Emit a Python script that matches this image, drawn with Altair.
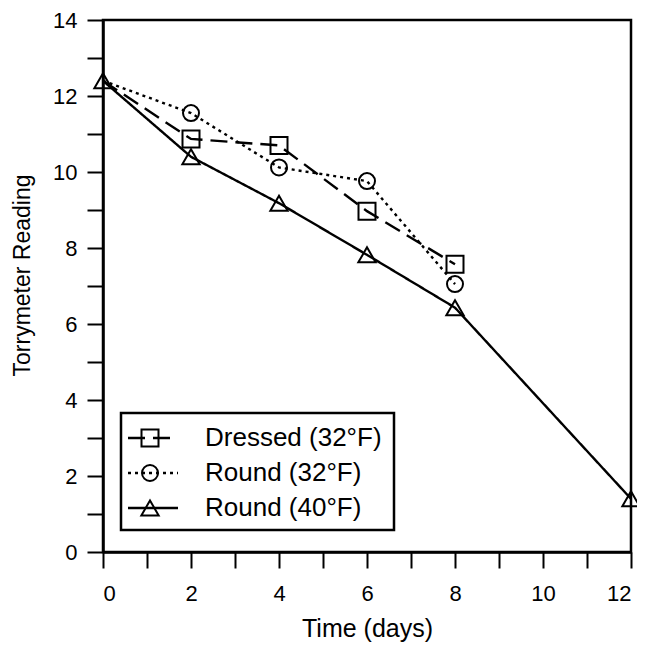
import altair as alt
import pandas as pd

# ---- data ----
series_names = ["Dressed (32°F)", "Round (32°F)", "Round (40°F)"]
days_dressed = [0, 2, 4, 6, 8]
dressed_32 = [12.4, 10.87, 10.7, 8.97, 7.57]
days_round32 = [0, 2, 4, 6, 8]
round_32 = [12.4, 11.55, 10.12, 9.76, 7.05]
days_round40 = [0, 2, 4, 6, 8, 12]
round_40 = [12.4, 10.4, 9.18, 7.82, 6.43, 1.4]
x_ticks = list(range(0, 13))
y_ticks = list(range(0, 15))
# day-0 markers of the 32°F series are hidden behind the triangle in the reference
marker_from_day = [2, 2, 0]

rows = []
for d, v in zip(days_dressed, dressed_32):
    rows.append({"series": series_names[0], "day": d, "value": v})
for d, v in zip(days_round32, round_32):
    rows.append({"series": series_names[1], "day": d, "value": v})
for d, v in zip(days_round40, round_40):
    rows.append({"series": series_names[2], "day": d, "value": v})
df = pd.DataFrame(rows)

FONT = "Liberation Sans"

x_enc = alt.X(
    "day:Q",
    scale=alt.Scale(domain=[0, 12], nice=False),
    axis=alt.Axis(
        values=x_ticks,
        labelExpr="datum.value % 2 == 0 ? datum.label : ''",
        title="Time (days)",
        tickSize=16,
        labelPadding=15,
        titleY=84,
        titleBaseline="alphabetic",
        titleFontSize=25,
    ),
)
y_enc = alt.Y(
    "value:Q",
    scale=alt.Scale(domain=[0, 14], nice=False),
    axis=alt.Axis(
        values=y_ticks,
        labelExpr="datum.value % 2 == 0 ? datum.label : ''",
        title="Torrymeter Reading",
        tickSize=16,
        labelPadding=10,
        titleX=-74,
        titleY=255,
        titleAlign="center",
        titleBaseline="alphabetic",
        titleFontSize=23,
    ),
)

styles = [
    {"dash": [17, 8], "shape": "square", "size": 289},
    {"dash": [3, 4], "shape": "circle", "size": 256},
    {"dash": [1, 0], "shape": "triangle-up", "size": 300},
]

base = alt.Chart(df)
layers = []
for name, st, d0 in zip(series_names, styles, marker_from_day):
    sub = base.transform_filter(alt.datum.series == name)
    layers.append(
        sub.mark_line(color="black", strokeWidth=2.4, strokeDash=st["dash"]).encode(x=x_enc, y=y_enc)
    )
    layers.append(
        sub.transform_filter(alt.datum.day >= d0)
        .mark_point(shape=st["shape"], size=st["size"], filled=False, color="black",
                    opacity=1, strokeWidth=2).encode(x=x_enc, y=y_enc)
    )

# ---- manual legend box (pixel positions inside plot area) ----
one = pd.DataFrame({"k": [0]})
legend_layers = [
    alt.Chart(one).mark_rect(fill="white", stroke="black", strokeWidth=2.5).encode(
        x=alt.value(18), x2=alt.value(291), y=alt.value(393), y2=alt.value(510)
    )
]
row_y = [418, 453, 488]
for name, st, ry in zip(series_names, styles, row_y):
    legend_layers.append(
        alt.Chart(one).mark_rule(color="black", strokeWidth=2.4, strokeDash=st["dash"]).encode(
            x=alt.value(25), x2=alt.value(75), y=alt.value(ry)
        )
    )
    legend_layers.append(
        alt.Chart(one).mark_point(shape=st["shape"], size=st["size"], filled=False, color="black",
                                  opacity=1, strokeWidth=2).encode(
            x=alt.value(47), y=alt.value(ry)
        )
    )
    legend_layers.append(
        alt.Chart(one).mark_text(align="left", baseline="middle", fontSize=26, font=FONT, color="black").encode(
            x=alt.value(102), y=alt.value(ry), text=alt.value(name)
        )
    )

chart = (
    alt.layer(*layers, *legend_layers)
    .properties(
        width=528,
        height=532,
        autosize=alt.AutoSizeParams(type="none"),
        padding={"left": 95, "top": 12, "right": 6, "bottom": 92},
        background="white",
    )
    .configure_view(stroke="black", strokeWidth=2.5)
    .configure_axis(
        grid=False,
        domainColor="black",
        domainWidth=2.5,
        tickColor="black",
        tickWidth=2,
        labelColor="black",
        labelFont=FONT,
        labelFontSize=22,
        titleFont=FONT,
        titleFontWeight="normal",
        titleColor="black",
    )
)

chart.save("out.html", embed_options={"renderer": "svg", "actions": False})
